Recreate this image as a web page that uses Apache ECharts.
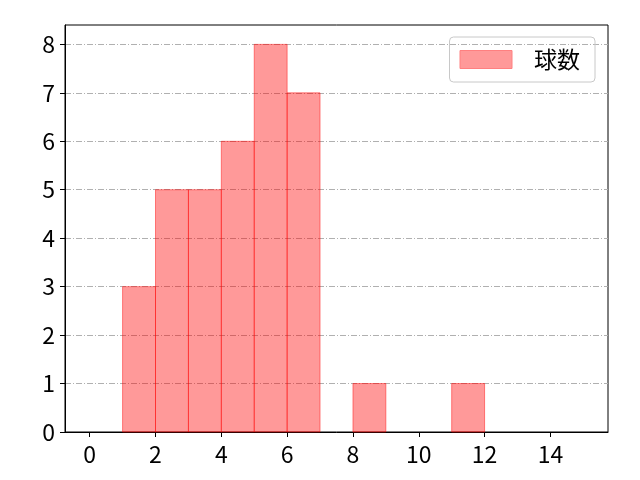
<!DOCTYPE html>
<html lang="ja">
<head>
    <meta charset="UTF-8">
    <title>球数</title>
</head>
<body style="margin:0;">
<div id="echart" style="width: 640px; height: 480px;"></div>

<script src="https://cdn.jsdelivr.net/npm/echarts@6/dist/echarts.min.js"></script>
<script>
    // ビンの左端と度数
    var binStarts = [1, 2, 3, 4, 5, 6, 7, 8, 9, 10, 11];
    var counts = [3, 5, 5, 6, 8, 7, 0, 1, 0, 0, 1];
    var binWidth = 1;
    var xTicks = [0, 2, 4, 6, 8, 10, 12, 14];
    var yTicks = [0, 1, 2, 3, 4, 5, 6, 7, 8];
    var seriesName = '球数';

    var data = [];
    for (var i = 0; i < binStarts.length; i++) {
        data.push([binStarts[i], binStarts[i] + binWidth, counts[i]]);
    }

    var font = '"Noto Sans CJK JP", "DejaVu Sans", sans-serif';
    var myChart = echarts.init(document.getElementById('echart'));

    var option = {
        animation: false,
        grid: {left: 65, right: 32, top: 25, bottom: 48, show: true, borderColor: '#000', borderWidth: 1},
        legend: {
            data: [{name: seriesName, icon: 'rect'}],
            right: 45, top: 37,
            padding: [11, 15, 11, 10],
            itemWidth: 52, itemHeight: 18, itemGap: 10,
            borderColor: '#c8c8c8', borderWidth: 1, borderRadius: 4,
            itemStyle: {color: '#ff9999', borderColor: '#ff8080', borderWidth: 1},
            textStyle: {fontFamily: font, fontSize: 23, color: '#000', padding: [0, 0, 0, 17]}
        },
        xAxis: {
            type: 'value', min: -0.75, max: 15.75,
            splitLine: {show: false},
            axisLine: {onZero: false, lineStyle: {color: '#000'}},
            axisTick: {show: true, length: 5, lineStyle: {color: '#000'}, customValues: xTicks},
            axisLabel: {
                fontFamily: font, fontSize: 23, color: '#000', margin: 11,
                customValues: xTicks, formatter: function (v) { return v; }
            }
        },
        yAxis: {
            type: 'value', min: 0, max: 8.4,
            axisLine: {show: true, onZero: false, lineStyle: {color: '#000'}},
            axisTick: {show: true, length: 5, lineStyle: {color: '#000'}, customValues: yTicks},
            axisLabel: {
                fontFamily: font, fontSize: 23, color: '#000', margin: 10,
                customValues: yTicks, formatter: function (v) { return v; }
            },
            splitLine: {show: true, lineStyle: {color: '#b0b0b0', width: 1, type: [6, 2, 1, 2]}}
        },
        series: [{
            name: seriesName,
            type: 'custom',
            itemStyle: {color: 'rgba(255,0,0,0.4)', borderColor: 'rgba(255,0,0,0.45)', borderWidth: 1},
            renderItem: function (params, api) {
                var h = api.value(2);
                if (!h) return null;
                var p0 = api.coord([api.value(0), 0]);
                var p1 = api.coord([api.value(1), h]);
                return {
                    type: 'rect',
                    shape: {x: p0[0], y: p1[1], width: p1[0] - p0[0], height: p0[1] - p1[1]},
                    style: {fill: 'rgba(255,0,0,0.4)', stroke: 'rgba(255,0,0,0.45)', lineWidth: 1}
                };
            },
            encode: {x: [0, 1], y: 2},
            data: data
        }]
    };
    myChart.setOption(option, true);
</script>
</body>
</html>
